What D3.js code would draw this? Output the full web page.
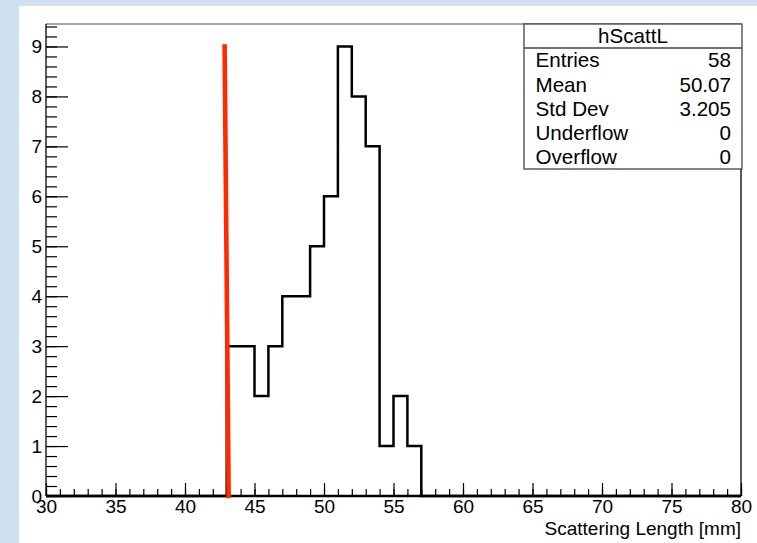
<!DOCTYPE html>
<html><head><meta charset="utf-8">
<script src="https://cdn.jsdelivr.net/npm/d3@7"></script>
<style>
html,body{margin:0;padding:0;background:#cfe0f1;}
svg{display:block;font-family:"Liberation Sans",Arial,Helvetica,sans-serif;}
</style></head>
<body><svg id="c" width="757" height="543"></svg>
<script>
// ---- data ----
const histName = "hScattL";
const xTitle = "Scattering Length [mm]";
const xDomain = [30, 80];
const yDomain = [0, 9.45];
const binStarts = [43, 44, 45, 46, 47, 48, 49, 50, 51, 52, 53, 54, 55, 56];
const binCounts = [3, 3, 2, 3, 4, 4, 5, 6, 9, 8, 7, 1, 2, 1];
const xMajorTicks = [30, 35, 40, 45, 50, 55, 60, 65, 70, 75, 80];
const yMajorTicks = [0, 1, 2, 3, 4, 5, 6, 7, 8, 9];
const statLabels = ["Entries", "Mean", "Std Dev", "Underflow", "Overflow"];
const statValues = ["58", "50.07", "3.205", "0", "0"];
const cutLineX = [42.85, 43.14];
const cutLineY = [9, 0];

// ---- layout ----
const svg = d3.select("#c");
const L = 46, R = 741, T = 24, B = 496;
svg.append("rect").attr("x", 19).attr("y", 6).attr("width", 757 - 19).attr("height", 543 - 6).attr("fill", "#fff");

const x = d3.scaleLinear().domain(xDomain).range([L, R]);
const y = d3.scaleLinear().domain(yDomain).range([B, T]);

// histogram full bins
const counts = new Map(binStarts.map((b, i) => [b, binCounts[i]]));
const pts = [];
for (let b = xDomain[0]; b < xDomain[1]; b++) pts.push([b, counts.get(b) || 0]);
pts.push([xDomain[1], 0]);

// frame
svg.append("line").attr("x1", L).attr("x2", R).attr("y1", T).attr("y2", T).attr("stroke", "#888").attr("stroke-width", 1.5);
svg.append("line").attr("x1", R).attr("x2", R).attr("y1", T).attr("y2", B).attr("stroke", "#000").attr("stroke-width", 1.3);

// histogram
svg.append("path")
  .attr("d", d3.line().x(d => x(d[0])).y(d => y(d[1])).curve(d3.curveStepAfter)(pts))
  .attr("fill", "none").attr("stroke", "#000").attr("stroke-width", 2.5);

const fs = 19;
// x axis
const gx = svg.append("g").attr("transform", `translate(0,${B})`);
gx.call(d3.axisBottom(x).tickValues(d3.range(30, 81, 1)).tickSize(-7).tickFormat(""));
gx.call(g => g.selectAll(".tick line").attr("stroke", "#000").attr("stroke-width", 1.2));
const gx2 = svg.append("g").attr("transform", `translate(0,${B})`);
gx2.call(d3.axisBottom(x).tickValues(xMajorTicks).tickSize(-13).tickPadding(4).tickFormat(d3.format("d")));
gx2.selectAll(".tick line").attr("stroke", "#000").attr("stroke-width", 1.2);
gx2.selectAll(".tick text").attr("font-size", fs).attr("fill", "#000").attr("font-family", "Liberation Sans, Arial, sans-serif");
[gx, gx2].forEach(g => g.select(".domain").remove());
svg.append("line").attr("x1", L).attr("x2", R).attr("y1", B).attr("y2", B).attr("stroke", "#000").attr("stroke-width", 2.5);

// y axis
const gy = svg.append("g").attr("transform", `translate(${L},0)`);
gy.call(d3.axisLeft(y).tickValues(d3.range(0, 9.41, 0.2)).tickSize(-11).tickFormat(""));
gy.selectAll(".tick line").attr("stroke", "#000").attr("stroke-width", 1.2);
const gy2 = svg.append("g").attr("transform", `translate(${L},0)`);
gy2.call(d3.axisLeft(y).tickValues(yMajorTicks).tickSize(-22).tickPadding(4).tickFormat(d3.format("d")));
gy2.selectAll(".tick line").attr("stroke", "#000").attr("stroke-width", 1.2);
gy2.selectAll(".tick text").attr("font-size", fs).attr("fill", "#000").attr("font-family", "Liberation Sans, Arial, sans-serif");
[gy, gy2].forEach(g => g.select(".domain").remove());
svg.append("line").attr("x1", L).attr("x2", L).attr("y1", T).attr("y2", B).attr("stroke", "#000").attr("stroke-width", 1.3);

// x title
svg.append("text").attr("x", R).attr("y", 535).attr("text-anchor", "end").attr("font-size", fs).text(xTitle);

// red cut line
svg.append("line")
  .attr("x1", x(cutLineX[0])).attr("y1", y(cutLineY[0]))
  .attr("x2", x(cutLineX[1])).attr("y2", y(cutLineY[1]))
  .attr("stroke", "#ff2a00").attr("stroke-width", 4.6).attr("stroke-linecap", "square");

// stats box
const bx0 = 524, bx1 = 742, by0 = 24, by1 = 169, hdr = 48;
svg.append("rect").attr("x", bx0).attr("y", by0).attr("width", bx1 - bx0).attr("height", by1 - by0)
  .attr("fill", "#fff").attr("stroke", "#444").attr("stroke-width", 1.3);
svg.append("line").attr("x1", bx0).attr("x2", bx1).attr("y1", hdr).attr("y2", hdr).attr("stroke", "#444").attr("stroke-width", 1.3);
const sfs = 20.6;
svg.append("text").attr("x", (bx0 + bx1) / 2).attr("y", (by0 + hdr) / 2).attr("dy", "0.35em")
  .attr("text-anchor", "middle").attr("font-size", sfs).text(histName);
const rowH = (by1 - hdr) / statLabels.length;
statLabels.forEach((lab, i) => {
  const cy = hdr + rowH * (i + 0.5);
  svg.append("text").attr("x", 535.5).attr("y", cy).attr("dy", "0.35em").attr("font-size", sfs).text(lab);
  svg.append("text").attr("x", 731).attr("y", cy).attr("dy", "0.35em").attr("text-anchor", "end").attr("font-size", sfs).text(statValues[i]);
});
</script></body></html>
